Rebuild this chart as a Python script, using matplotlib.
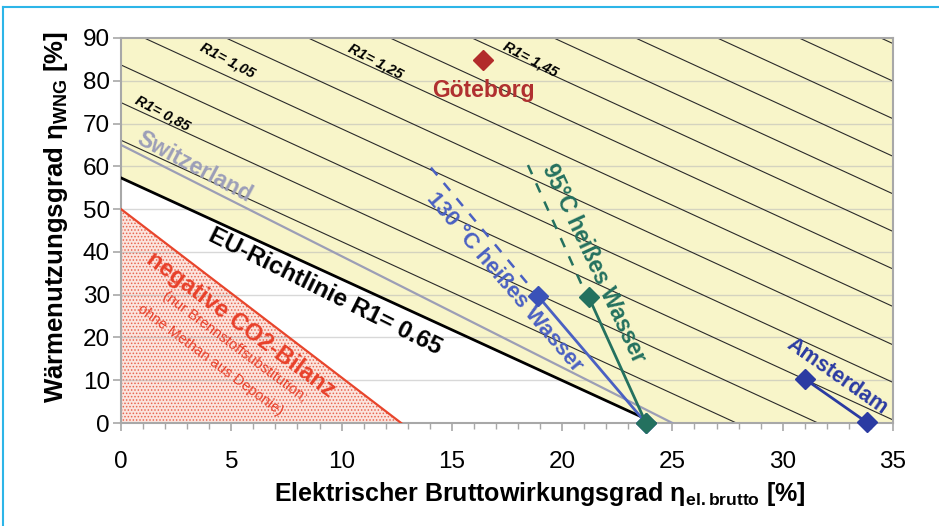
import numpy as np
import matplotlib
matplotlib.use("Agg")
import matplotlib.pyplot as plt
from matplotlib.lines import Line2D

plt.rcParams['font.family'] = ['Liberation Sans', 'DejaVu Sans']
plt.rcParams['mathtext.fontset'] = 'custom'
plt.rcParams['mathtext.rm'] = 'Liberation Sans:bold'
plt.rcParams['mathtext.bf'] = 'Liberation Sans:bold'
plt.rcParams['mathtext.it'] = 'Liberation Sans:bold:italic'
plt.rcParams['hatch.linewidth'] = 0.7

# iso-R1 lines: intercept with y axis (x=0) and with x axis (y=0)
r1_values = [0.65, 0.75, 0.85, 0.95, 1.05, 1.15, 1.25, 1.35, 1.45, 1.55, 1.65, 1.75, 1.85, 1.95]
r1_y0 = [57.3, 66.1, 74.9, 83.7, 92.5, 101.3, 110.1, 118.9, 127.7, 136.5, 145.3, 154.1, 162.9, 171.7]
r1_x0 = [24.2, 27.9, 31.6, 35.3, 39.0, 42.7, 46.5, 50.2, 53.9, 57.6, 61.3, 65.0, 68.7, 72.4]
r1_labels = ["R1= 0,85", "R1= 1,05", "R1= 1,25", "R1= 1,45"]
r1_label_pos = [(1.9, 72.5), (4.85, 84.8), (11.55, 84.6), (18.55, 85.0)]

# Switzerland line and negative CO2 boundary
swiss_y0, swiss_x0 = 65.0, 25.0
co2_y0, co2_x0 = 50.0, 12.7

# plants
goteborg_x, goteborg_y = [16.4], [84.8]
hot130_x, hot130_y = [18.9, 23.8], [29.7, 0.0]
hot130_ext_x, hot130_ext_y = [14.05, 18.9], [59.7, 29.7]
hot95_x, hot95_y = [21.2, 23.8], [29.5, 0.0]
hot95_ext_x, hot95_ext_y = [18.45, 21.0], [60.3, 31.0]
amsterdam_x, amsterdam_y = [31.0, 33.8], [10.3, 0.2]

fig = plt.figure(figsize=(9.39, 5.26), dpi=100)
ax = fig.add_axes([121 / 939, 1 - 423 / 526, 772 / 939, 385 / 526])
ax.set_xlim(0, 35)
ax.set_ylim(0, 90)

# yellow area above the EU line
xs = np.array([0, r1_x0[0], 35])
eu_low = np.array([r1_y0[0], 0, 0])
ax.fill_between(xs, eu_low, 90, color='#f8f5c9', lw=0, zorder=0)

# negative CO2 area
ax.fill([0, 0, co2_x0], [0, co2_y0, 0], facecolor='#fbe4de', edgecolor='#e8654f',
        hatch='.....', lw=0, zorder=1)
ax.plot([0, co2_x0], [co2_y0, 0], color='#e8452c', lw=1.6, zorder=4)

# horizontal grid
for gy in range(10, 90, 10):
    ax.axhline(gy, color='#b8b8b8', lw=1.0, alpha=0.55, zorder=1.5)

# iso-R1 lines
for i, (y0, x0) in enumerate(zip(r1_y0, r1_x0)):
    if i == 0:
        ax.plot([0, x0], [y0, 0], color='black', lw=2.0, zorder=3)
    else:
        ax.plot([0, x0], [y0, 0], color='#2a2a2a', lw=0.8, zorder=2)
for txt, (tx, ty) in zip(r1_labels, r1_label_pos):
    ax.text(tx, ty, txt, rotation=-28, ha='center', va='center', fontsize=10.5,
            fontweight='bold', fontstyle='italic', color='black', zorder=6)

ax.plot([0, swiss_x0], [swiss_y0, 0], color='#9c9eb6', lw=1.6, zorder=3)
ax.text(3.35, 59.8, "Switzerland", rotation=-28, ha='center', va='center',
        fontsize=16.5, fontweight='bold', color='#9c9eb8', zorder=6)

ax.text(9.25, 30.8, "EU-Richtlinie R1= 0.65", rotation=-26.5, ha='center', va='center',
        fontsize=17.5, fontweight='bold', color='black', zorder=6)

ax.text(5.45, 22.9, "negative CO2-Bilanz", rotation=-36.5, ha='center', va='center',
        fontsize=17, fontweight='bold', color='#e8402a', zorder=6)
ax.text(5.15, 17.8, "(nur Brennstoffsubstitution;", rotation=-36.5, ha='center', va='center',
        fontsize=10.5, color='#e8402a', zorder=6)
ax.text(4.05, 14.7, "ohne Methan aus Deponie)", rotation=-36.5, ha='center', va='center',
        fontsize=10.5, color='#e8402a', zorder=6)

# Göteborg
ax.plot(goteborg_x, goteborg_y, marker='D', ms=10, color='#b22b2b', ls='none', zorder=7)
ax.text(16.45, 77.8, "Göteborg", ha='center', va='center', fontsize=16.5,
        fontweight='bold', color='#b03030', zorder=6)

# 130 °C
c130 = '#4a60c2'
ax.plot(hot130_ext_x, hot130_ext_y, color=c130, lw=1.8, ls=(0, (4, 4)), zorder=5)
ax.plot(hot130_x, hot130_y, color=c130, lw=2.0, marker='D', ms=10,
        markerfacecolor='#3a52b8', markeredgecolor='#3a52b8', zorder=7, clip_on=False)
ax.text(17.4, 32.9, "130 °C heißes Wasser", rotation=-49.5, ha='center', va='center',
        fontsize=16, fontweight='bold', color=c130, zorder=6)

# 95 °C
c95 = '#24715f'
ax.plot(hot95_ext_x, hot95_ext_y, color=c95, lw=1.8, ls=(0, (4, 4)), zorder=5)
ax.plot(hot95_x, hot95_y, color=c95, lw=2.0, marker='D', ms=10, zorder=7, clip_on=False)
ax.text(21.45, 37.4, "95°C heißes Wasser", rotation=-65, ha='center', va='center',
        fontsize=16.5, fontweight='bold', color=c95, zorder=6)

# Amsterdam
cam = '#2b3ba2'
ax.plot(amsterdam_x, amsterdam_y, color=cam, lw=2.0, marker='D', ms=10, zorder=7, clip_on=False)
ax.text(32.45, 11.0, "Amsterdam", rotation=-35, ha='center', va='center',
        fontsize=15.5, fontweight='bold', color=cam, zorder=6)

# axes styling
for s in ax.spines.values():
    s.set_color('#a8a8a8')
    s.set_linewidth(1.5)
ax.set_xticks(range(0, 36, 5))
ax.set_xticks(range(0, 36), minor=True)
ax.set_yticks(range(0, 91, 10))
ax.tick_params(axis='both', which='major', direction='out', length=6, width=1.2,
               color='#a8a8a8', labelsize=17.5)
ax.tick_params(axis='x', which='minor', direction='out', length=4, width=1.0, color='#a8a8a8')
ax.tick_params(axis='x', pad=14)
ax.tick_params(axis='y', pad=2)

ax.set_xlabel(r"Elektrischer Bruttowirkungsgrad η$_{\mathrm{el{.}brutto}}$ [%]",
              fontsize=18, fontweight='bold')
ax.xaxis.set_label_coords(0.543, -0.148)
ax.set_ylabel(r"Wärmenutzungsgrad η$_{\mathrm{WNG}}$ [%]", fontsize=18.5, fontweight='bold')
ax.yaxis.set_label_coords(-0.066, 0.535)

# cyan frame (top and left)
fig.add_artist(Line2D([2.5 / 939, 1], [1 - 7 / 526, 1 - 7 / 526], color='#2cb5e8', lw=1.5))
fig.add_artist(Line2D([2.5 / 939, 2.5 / 939], [0, 1 - 7 / 526], color='#2cb5e8', lw=1.5))

fig.savefig("out.png", dpi=100)
